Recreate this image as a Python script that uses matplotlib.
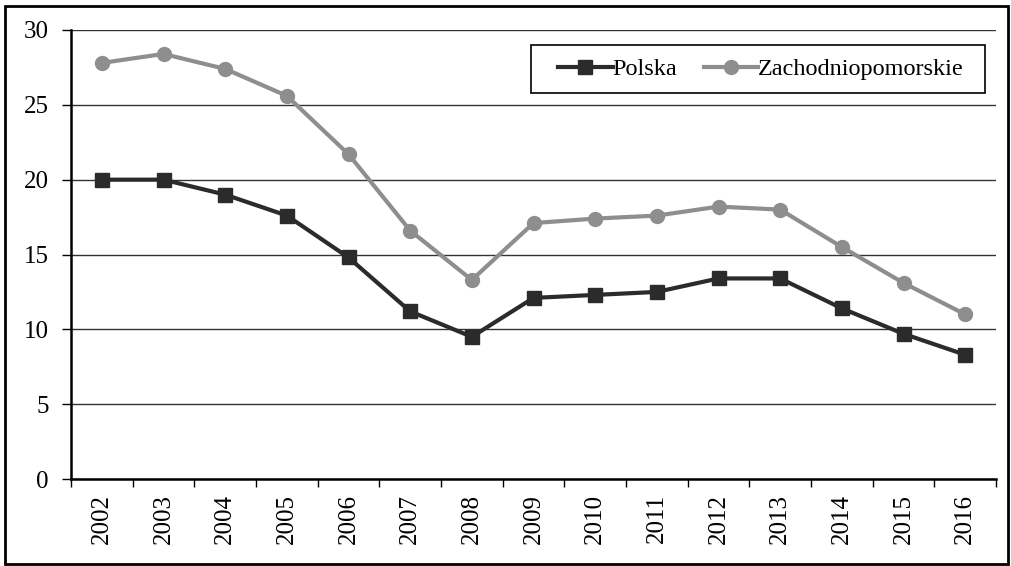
import matplotlib.pyplot as plt
from matplotlib.patches import Rectangle

# Data
years = ["2002", "2003", "2004", "2005", "2006", "2007", "2008", "2009",
         "2010", "2011", "2012", "2013", "2014", "2015", "2016"]
polska = [20.0, 20.0, 19.0, 17.6, 14.8, 11.2, 9.5, 12.1, 12.3, 12.5, 13.4, 13.4, 11.4, 9.7, 8.3]
zachodniopomorskie = [27.8, 28.4, 27.4, 25.6, 21.7, 16.6, 13.3, 17.1, 17.4, 17.6, 18.2, 18.0, 15.5, 13.1, 11.0]

plt.rcParams["font.family"] = ["Liberation Serif", "DejaVu Serif"]

W, H = 1011, 566
fig = plt.figure(figsize=(W / 100, H / 100), dpi=100)
ax = fig.add_axes([71 / W, 1 - 479 / H, (996 - 71) / W, (479 - 30) / H])

x = list(range(len(years)))
ax.plot(x, polska, color="#2b2b2b", lw=3, marker="s", ms=10, label="Polska", zorder=3)
ax.plot(x, zachodniopomorskie, color="#8e8e8e", lw=3, marker="o", ms=10,
        label="Zachodniopomorskie", zorder=3)

ax.set_xlim(-0.5, len(years) - 0.5)
ax.set_ylim(0, 30)
ax.set_yticks(range(0, 31, 5))
ax.yaxis.grid(True, color="#333333", lw=1)
ax.set_axisbelow(True)

# category labels centred, ticks on the boundaries
ax.set_xticks(x)
ax.set_xticklabels(years, rotation=90, fontsize=18)
ax.set_xticks([i - 0.5 for i in range(len(years) + 1)], minor=True)
ax.tick_params(axis="x", which="major", length=0, pad=11)
ax.tick_params(axis="x", which="minor", length=6, width=1, direction="out")
ax.tick_params(axis="y", length=6.5, width=1, labelsize=18, pad=9.5)

for side in ["top", "right"]:
    ax.spines[side].set_visible(False)
ax.spines["left"].set_linewidth(1.8)
ax.spines["bottom"].set_linewidth(1.8)

# legend entries without frame, box drawn separately
leg = ax.legend(loc="center", bbox_to_anchor=(761 / W, 1 - 69 / H),
                bbox_transform=fig.transFigure, ncol=2, fontsize=17.5,
                frameon=False, handlelength=2.25, handletextpad=0.0,
                columnspacing=1.07, borderpad=0, borderaxespad=0)
fig.patches.append(Rectangle((531 / W, 1 - 93 / H), 454 / W, 48 / H,
                             transform=fig.transFigure, fill=False,
                             edgecolor="black", lw=1.2, zorder=4))

# outer frame
fig.patches.append(Rectangle((5 / W, 2 / H), 1003 / W, 558 / H,
                             transform=fig.transFigure, fill=False,
                             edgecolor="black", lw=2))

fig.savefig("out.png", dpi=100)
